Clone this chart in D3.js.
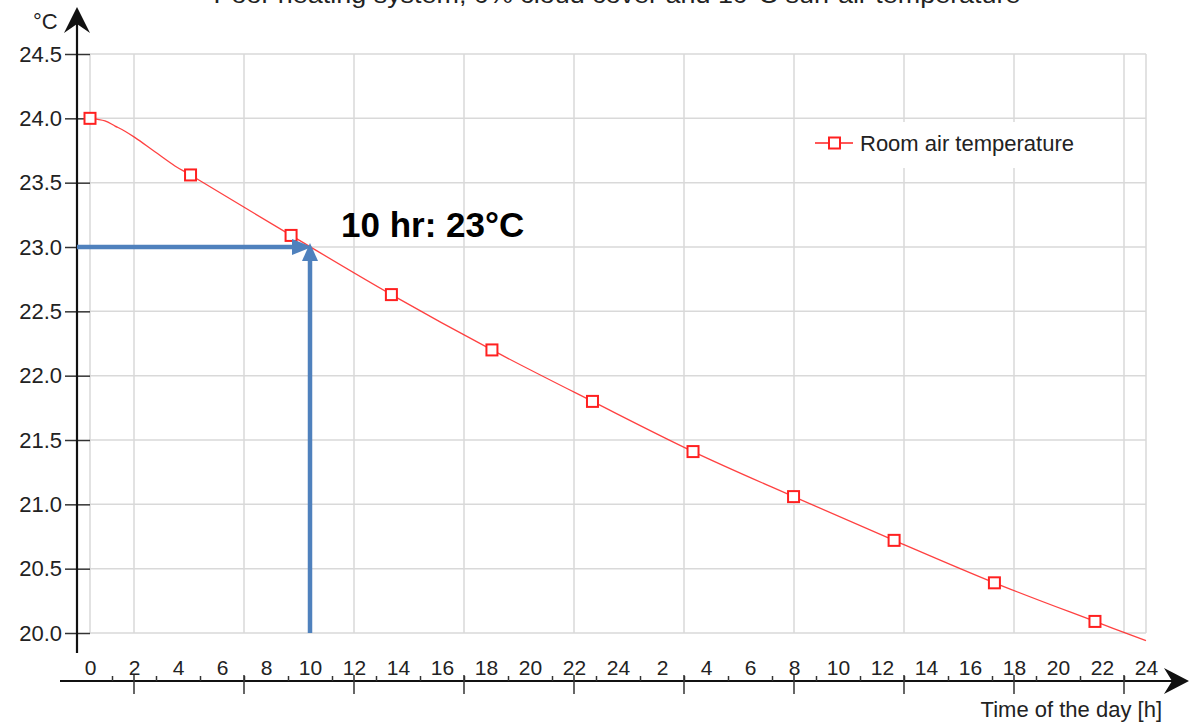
<!DOCTYPE html>
<html>
<head>
<meta charset="utf-8">
<script src="https://cdn.jsdelivr.net/npm/d3@7"></script>
<style>
  body { margin: 0; background: #fff; }
  svg { display: block; font-family: "Liberation Sans", Arial, sans-serif; }
</style>
</head>
<body>
<div id="chart"></div>
<script>
// room air temperature (hours since start, deg C)
const lineHours = [0, 0.68, 1.14, 1.59, 2.05, 2.95, 3.86, 4.57, 9.14, 13.7, 18.27, 22.84, 27.41, 31.98, 36.55, 41.11, 45.68, 48]
const lineTemps = [24.0, 23.98, 23.94, 23.9, 23.85, 23.74, 23.63, 23.56, 23.09, 22.63, 22.2, 21.8, 21.41, 21.06, 20.72, 20.39, 20.09, 19.94]

// points that carry a square marker
const markerHours = [0, 4.57, 9.14, 13.7, 18.27, 22.84, 27.41, 31.98, 36.55, 41.11, 45.68]
const markerTemps = [24.0, 23.56, 23.09, 22.63, 22.2, 21.8, 21.41, 21.06, 20.72, 20.39, 20.09]

const yTicks = [20.0, 20.5, 21.0, 21.5, 22.0, 22.5, 23.0, 23.5, 24.0, 24.5]
const labelHours = d3.range(0, 49, 2)      // 0..24, then 2..24 of the next day
const minorHours = d3.range(1, 48, 2)
const gridHours = d3.range(2, 48, 5)

const annoHour = 10
const annoTemp = 23
const annoText = "10 hr: 23°C"

const title = "Poor heating system, 0% cloud cover and 10°C sun-air temperature"
const seriesName = "Room air temperature"

const width = 1189
const height = 725

const x = d3.scaleLinear().domain([0, 48]).range([90, 1146])
const y = d3.scaleLinear().domain([20, 24.5]).range([633, 54])

const svg = d3.select("#chart").append("svg")
    .attr("width", width)
    .attr("height", height)

const grid = "#d9d9d9"
const red = "#ff2020"
const blue = "#4f81bd"

// title, cut at the top edge
svg.append("text")
    .attr("x", 617)
    .attr("y", 3)
    .attr("text-anchor", "middle")
    .attr("font-size", 23)
    .attr("fill", "#222")
    .attr("textLength", 807)
    .attr("lengthAdjust", "spacingAndGlyphs")
    .text(title)

// grid
svg.append("g").selectAll("line")
    .data(yTicks)
    .enter().append("line")
    .attr("x1", x(0)).attr("x2", x(48))
    .attr("y1", d => y(d)).attr("y2", d => y(d))
    .attr("stroke", grid).attr("stroke-width", 1.5)

svg.append("g").selectAll("line")
    .data([0, ...gridHours, 48])
    .enter().append("line")
    .attr("x1", d => x(d)).attr("x2", d => x(d))
    .attr("y1", y(24.5)).attr("y2", y(20))
    .attr("stroke", grid).attr("stroke-width", 1.5)

// y axis labels and ticks
svg.append("g")
    .attr("transform", `translate(${x(0)},0)`)
    .call(d3.axisLeft(y).tickValues(yTicks).tickFormat(d3.format(".1f")).tickSize(25).tickPadding(3))
    .call(g => g.select(".domain").remove())
    .call(g => g.selectAll("line").attr("stroke", "#333").attr("stroke-width", 1.5))
    .call(g => g.selectAll("text").attr("font-size", 22).attr("fill", "#222").attr("font-family", null))

// legend
const legend = svg.append("g").attr("transform", "translate(806,122)")
legend.append("rect").attr("width", 284).attr("height", 46).attr("fill", "#fff")
legend.append("line")
    .attr("x1", 9).attr("x2", 47).attr("y1", 21).attr("y2", 21)
    .attr("stroke", red).attr("stroke-width", 1.3)
legend.append("rect")
    .attr("x", 23).attr("y", 15.5).attr("width", 11).attr("height", 11)
    .attr("fill", "#fff").attr("stroke", red).attr("stroke-width", 2)
legend.append("text")
    .attr("x", 54).attr("y", 29)
    .attr("font-size", 22).attr("fill", "#222")
    .text(seriesName)

// the series
const line = d3.line()
    .x((d, i) => x(lineHours[i]))
    .y(d => y(d))
    .curve(d3.curveCatmullRom.alpha(0.5))

svg.append("path")
    .datum(lineTemps)
    .attr("fill", "none")
    .attr("stroke", red)
    .attr("stroke-opacity", 0.85)
    .attr("stroke-width", 1.3)
    .attr("d", line)

svg.append("g").selectAll("rect")
    .data(markerTemps)
    .enter().append("rect")
    .attr("x", (d, i) => x(markerHours[i]) - 5.5)
    .attr("y", d => y(d) - 5.5)
    .attr("width", 11).attr("height", 11)
    .attr("fill", "#fff")
    .attr("stroke", red)
    .attr("stroke-width", 2)

// axes drawn over the chart
const axisY = 681
svg.append("line")
    .attr("x1", 77).attr("x2", 77).attr("y1", 653).attr("y2", 14)
    .attr("stroke", "#111").attr("stroke-width", 2.2)
svg.append("path")
    .attr("d", "M77,7 L90,33 L77,24 L64,33 Z")
    .attr("fill", "#111")
svg.append("text")
    .attr("x", 33).attr("y", 29)
    .attr("font-size", 22).attr("fill", "#222")
    .text("°C")

svg.append("line")
    .attr("x1", 60).attr("x2", 1180).attr("y1", axisY).attr("y2", axisY)
    .attr("stroke", "#111").attr("stroke-width", 2.2)
svg.append("path")
    .attr("d", `M1189,${axisY} L1164,${axisY + 13} L1172,${axisY} L1164,${axisY - 13} Z`)
    .attr("fill", "#111")

svg.append("g")
    .attr("transform", `translate(0,${axisY})`)
    .call(d3.axisTop(x).tickValues(labelHours).tickSize(0).tickPadding(6)
        .tickFormat(h => h <= 24 ? h : h - 24))
    .call(g => g.select(".domain").remove())
    .call(g => g.selectAll("text").attr("font-size", 21).attr("fill", "#222").attr("font-family", null))

svg.append("g")
    .attr("transform", `translate(0,${axisY})`)
    .call(d3.axisTop(x).tickValues(minorHours).tickSize(5).tickFormat(""))
    .call(g => g.select(".domain").remove())
    .call(g => g.selectAll("line").attr("stroke", "#333").attr("stroke-width", 1.5))

svg.append("g").selectAll("line")
    .data(gridHours)
    .enter().append("line")
    .attr("x1", d => x(d)).attr("x2", d => x(d))
    .attr("y1", axisY - 6).attr("y2", axisY + 13)
    .attr("stroke", "#333").attr("stroke-width", 1.5)

svg.append("text")
    .attr("x", 1162).attr("y", 717)
    .attr("text-anchor", "end")
    .attr("font-size", 22).attr("fill", "#222")
    .text("Time of the day [h]")

// annotation arrows
const ax = x(annoHour)
const ay = y(annoTemp)
svg.append("line")
    .attr("x1", 77).attr("x2", ax - 16).attr("y1", ay).attr("y2", ay)
    .attr("stroke", blue).attr("stroke-width", 4.5)
svg.append("path")
    .attr("d", `M${ax + 2},${ay} L${ax - 18},${ay - 8} L${ax - 18},${ay + 8} Z`)
    .attr("fill", blue)
svg.append("line")
    .attr("x1", ax).attr("x2", ax).attr("y1", y(20)).attr("y2", ay + 12)
    .attr("stroke", blue).attr("stroke-width", 4.5)
svg.append("path")
    .attr("d", `M${ax},${ay - 4} L${ax - 8},${ay + 14} L${ax + 8},${ay + 14} Z`)
    .attr("fill", blue)

svg.append("text")
    .attr("x", 341).attr("y", 237)
    .attr("font-size", 35).attr("font-weight", "bold").attr("fill", "#000")
    .text(annoText)
</script>
</body>
</html>
